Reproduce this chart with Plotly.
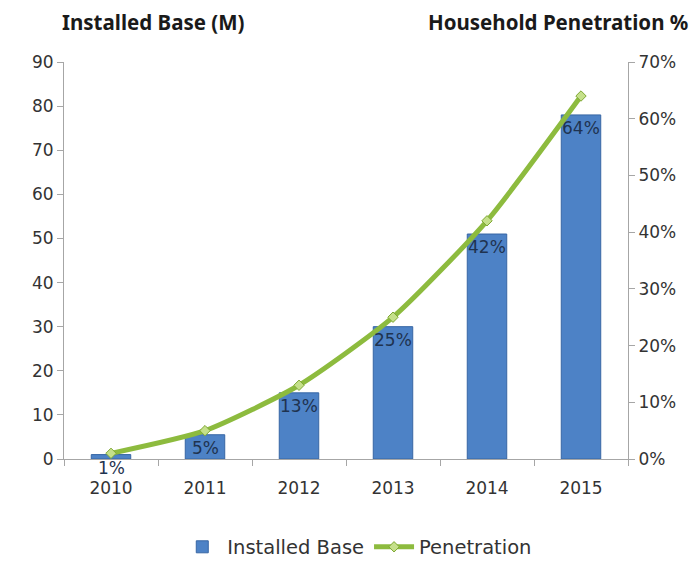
import plotly.graph_objects as go

years = ["2010", "2011", "2012", "2013", "2014", "2015"]
installed_base = [1, 5.5, 15, 30, 51, 78]
penetration = [1, 5, 13, 25, 42, 64]
pen_labels = ["1%", "5%", "13%", "25%", "42%", "64%"]
left_ticks = [0, 10, 20, 30, 40, 50, 60, 70, 80, 90]
right_ticks = [0, 10, 20, 30, 40, 50, 60, 70]

FONT = "DejaVu Sans"
TFONT = "Noto Sans"
TXT = "#333333"

fig = go.Figure()
fig.add_trace(go.Bar(
    x=years, y=installed_base, name="Installed Base",
    marker=dict(color="#4D82C6", line=dict(color="#3766A4", width=1)),
    width=0.42,
))
fig.add_trace(go.Scatter(
    x=years, y=penetration, name="Penetration", yaxis="y2",
    mode="lines+markers",
    line=dict(color="#8DBB3E", width=5, shape="spline", smoothing=0.6),
    marker=dict(symbol="diamond", size=8, color="#C5E08A",
                line=dict(color="#7FA834", width=1)),
))

for i, (v, lab) in enumerate(zip(installed_base, pen_labels)):
    fig.add_annotation(x=i, y=v, xref="x", yref="y", text=lab,
                       showarrow=False, yanchor="top",
                       xanchor="center", yshift=-1,
                       font=dict(family=FONT, size=17, color="#1F3350"))

fig.add_annotation(xref="paper", yref="paper", x=-0.007, y=1.1,
                   xanchor="left", yanchor="middle", showarrow=False,
                   text="<b>Installed Base (M)</b>",
                   font=dict(family=TFONT, size=20.5, color="#1a1a1a"))
fig.add_annotation(xref="paper", yref="paper", x=1.11, y=1.1,
                   xanchor="right", yanchor="middle", showarrow=False,
                   text="<b>Household Penetration %</b>",
                   font=dict(family=TFONT, size=20.5, color="#1a1a1a"))

fig.update_layout(
    width=692, height=553,
    margin=dict(l=56, r=72, t=54, b=102, autoexpand=False),
    paper_bgcolor="white", plot_bgcolor="white",
    font=dict(family=FONT, size=17, color=TXT),
    showlegend=True,
    legend=dict(orientation="h", x=0.52, xanchor="center", y=-0.222,
                yanchor="middle", font=dict(family=FONT, size=19.5, color=TXT),
                itemwidth=40),
    xaxis=dict(type="category", range=[-0.5, 5.5], showline=True,
               linecolor="#A6A6A6", linewidth=1, automargin=False,
               ticks="outside", tickcolor="#A6A6A6", ticklen=6,
               tickson="boundaries", showgrid=False, ticklabelstandoff=14,
               tickfont=dict(family=FONT, size=17, color=TXT)),
    yaxis=dict(range=[0, 90], tickvals=left_ticks, showline=True,
               linecolor="#A6A6A6", ticks="outside", tickcolor="#A6A6A6",
               ticklen=6, showgrid=False, zeroline=False, automargin=False,
               tickfont=dict(family=FONT, size=17, color=TXT)),
    yaxis2=dict(range=[0, 70], tickvals=right_ticks,
                ticktext=[f"{t}%" for t in right_ticks],
                overlaying="y", side="right", showline=True,
                linecolor="#A6A6A6", ticks="outside", tickcolor="#A6A6A6",
                ticklen=6, showgrid=False, zeroline=False, automargin=False,
                tickfont=dict(family=FONT, size=17, color=TXT)),
)

fig.write_html("out.html")
